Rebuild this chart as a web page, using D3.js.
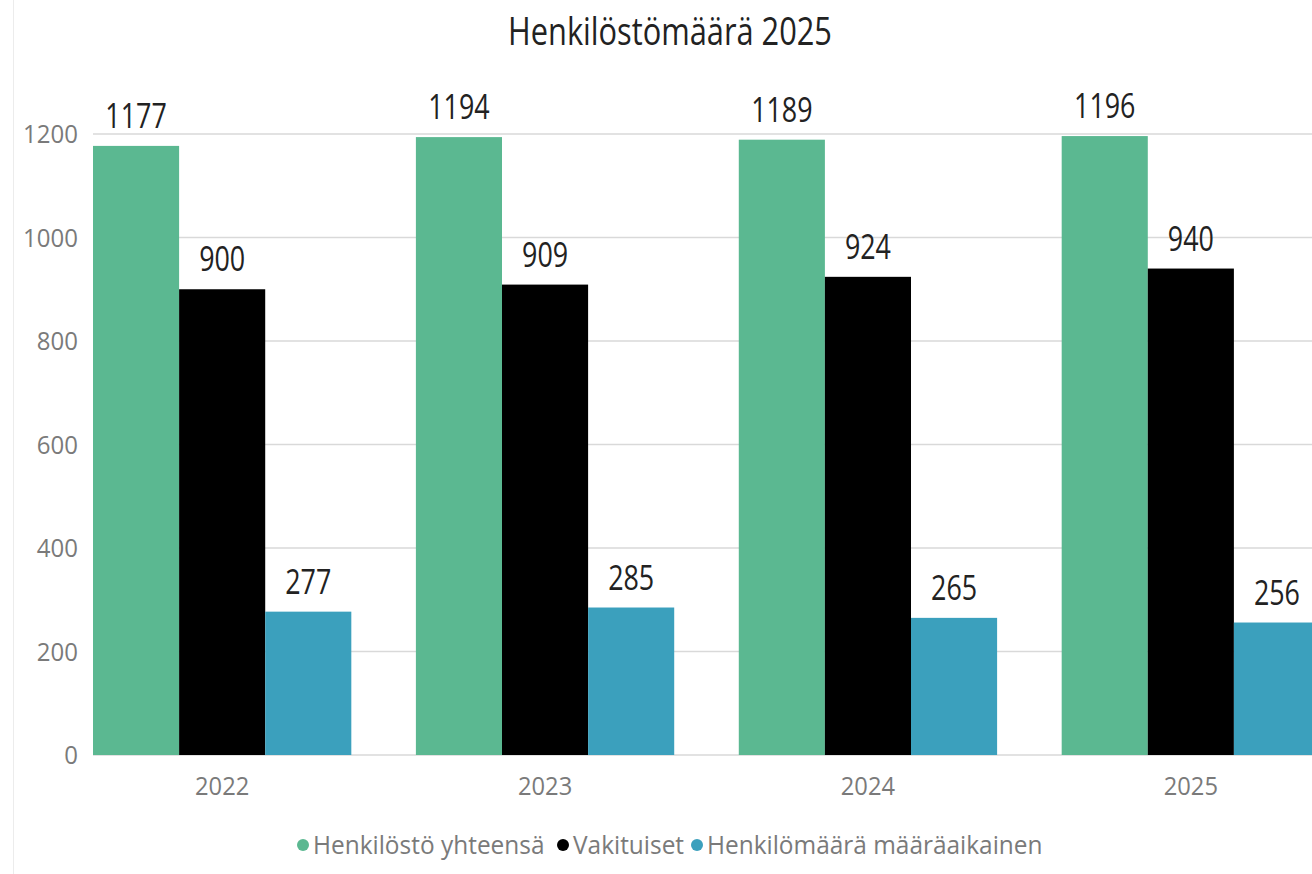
<!DOCTYPE html>
<html>
<head>
<meta charset="utf-8">
<script src="https://cdnjs.cloudflare.com/ajax/libs/d3/7.8.5/d3.min.js"></script>
<style>
  body { margin: 0; background: #fff; }
  text { font-family: "Open Sans", sans-serif; }
</style>
</head>
<body>
<div id="chart"></div>
<script>
const years = ["2022", "2023", "2024", "2025"]
const seriesNames = ["Henkilöstö yhteensä", "Vakituiset", "Henkilömäärä määräaikainen"]
const total = [1177, 1194, 1189, 1196]
const permanent = [900, 909, 924, 940]
const temporary = [277, 285, 265, 256]
const yTicks = [0, 200, 400, 600, 800, 1000, 1200]
const colors = ["#5bb891", "#000000", "#3ba0bd"]

const w = 1312
const h = 874

const svg = d3.select("#chart").append("svg")
    .attr("width", w).attr("height", h)

// faint frame line on the left
svg.append("line").attr("x1", 13.5).attr("x2", 13.5).attr("y1", 0).attr("y2", h)
    .attr("stroke", "#ececec")

const x0 = d3.scaleBand().domain(years).range([93, 1320]).paddingInner(0.2).paddingOuter(0)
const x1 = d3.scaleBand().domain(seriesNames).range([0, x0.bandwidth()])
const y = d3.scaleLinear().domain([0, 1200]).range([755, 134])

// text in the picture is narrow, squeeze it horizontally
function narrowText(sel, px, py, s) {
    return sel.attr("transform", "translate(" + px + "," + py + ") scale(" + s + ",1)")
}

// gridlines
svg.append("g").selectAll("line").data(yTicks).enter().append("line")
    .attr("x1", 93).attr("x2", w)
    .attr("y1", d => y(d)).attr("y2", d => y(d))
    .attr("stroke", "#d9d9d9").attr("stroke-width", 1.5)

// y tick labels
svg.append("g").selectAll("text").data(yTicks).enter().append("text")
    .each(function(d) { narrowText(d3.select(this), 78, y(d) + 9, 0.96) })
    .attr("text-anchor", "end")
    .attr("font-size", 25)
    .attr("fill", "#7a7a7a")
    .text(d => d)

const rows = years.map((yr, i) => ({ year: yr, values: [total[i], permanent[i], temporary[i]] }))

const groups = svg.append("g").selectAll("g").data(rows).enter().append("g")
    .attr("transform", d => "translate(" + x0(d.year) + ",0)")

groups.selectAll("rect").data(d => d.values.map((v, j) => ({ name: seriesNames[j], value: v, j: j })))
    .enter().append("rect")
    .attr("x", d => x1(d.name))
    .attr("width", x1.bandwidth())
    .attr("y", d => y(d.value))
    .attr("height", d => y(0) - y(d.value))
    .attr("fill", d => colors[d.j])

groups.selectAll("text.val").data(d => d.values.map((v, j) => ({ name: seriesNames[j], value: v })))
    .enter().append("text")
    .attr("class", "val")
    .each(function(d) { narrowText(d3.select(this), x1(d.name) + x1.bandwidth() / 2, y(d.value) - 18, 0.79) })
    .attr("text-anchor", "middle")
    .attr("font-size", 34)
    .attr("fill", "#222")
    .text(d => d.value)

// x labels
svg.append("g").selectAll("text").data(years).enter().append("text")
    .each(function(d) { narrowText(d3.select(this), x0(d) + x0.bandwidth() / 2, 795, 0.95) })
    .attr("text-anchor", "middle")
    .attr("font-size", 25)
    .attr("fill", "#7a7a7a")
    .text(d => d)

// title
svg.append("text")
    .each(function() { narrowText(d3.select(this), 670, 45, 0.81) })
    .attr("text-anchor", "middle")
    .attr("font-size", 38)
    .attr("fill", "#222")
    .text("Henkilöstömäärä 2025")

// legend
const legendX = [303, 563, 697]
const legend = svg.append("g").selectAll("g").data(seriesNames).enter().append("g")
    .attr("transform", (d, i) => "translate(" + legendX[i] + ",845)")
legend.append("circle").attr("r", 6).attr("fill", (d, i) => colors[i])
legend.append("text")
    .each(function() { narrowText(d3.select(this), 10, 9, 0.94) })
    .attr("font-size", 26)
    .attr("fill", "#7a7a7a")
    .text(d => d)
</script>
</body>
</html>
